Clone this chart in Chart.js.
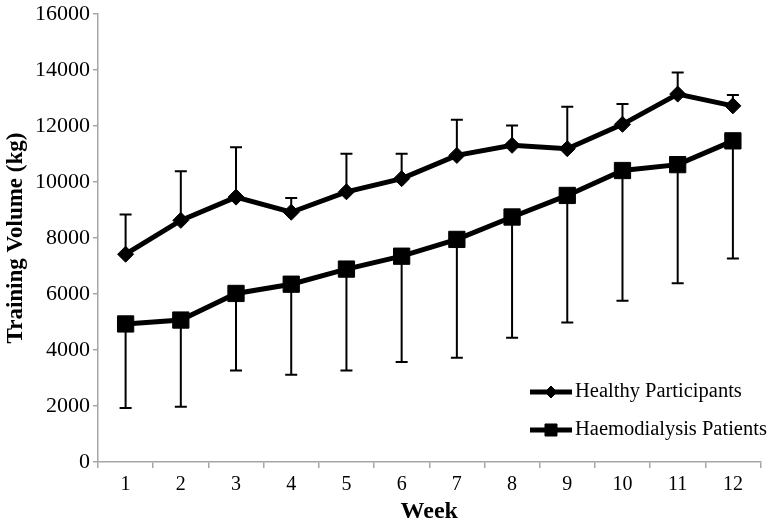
<!DOCTYPE html>
<html>
<head>
<meta charset="utf-8">
<script src="https://cdn.jsdelivr.net/npm/chart.js@4/dist/chart.umd.min.js"></script>
<style>
  html, body { margin: 0; padding: 0; background: #fff; }
  #wrap { width: 773px; height: 526px; position: relative; }
</style>
</head>
<body>
<div id="wrap"><canvas id="volChart"></canvas></div>
<script>
// Weekly training volume (kg)
const weeks = ['1', '2', '3', '4', '5', '6', '7', '8', '9', '10', '11', '12'];
const healthyMean = [7420, 8630, 9460, 8920, 9650, 10120, 10950, 11310, 11190, 12060, 13140, 12720];
const healthyUpper = [8840, 10380, 11240, 9430, 11010, 11010, 12220, 12020, 12690, 12790, 13910, 13110];
const dialysisMean = [4930, 5070, 6020, 6350, 6890, 7350, 7950, 8750, 9520, 10410, 10620, 11470];
const dialysisLower = [1930, 1970, 3270, 3120, 3270, 3570, 3720, 4440, 4980, 5760, 6380, 7270];
const yTicks = [0, 2000, 4000, 6000, 8000, 10000, 12000, 14000, 16000];

const serif = "'Liberation Serif', 'Times New Roman', serif";
const axisGrey = '#a6a6a6';

// one-sided SD bars: healthy go up, dialysis go down
const errorBars = {
  id: 'errorBars',
  beforeDatasetsDraw(chart) {
    const { ctx, scales: { x, y } } = chart;
    const cap = 6;
    const sets = [
      { mean: healthyMean, end: healthyUpper },
      { mean: dialysisMean, end: dialysisLower }
    ];
    ctx.save();
    ctx.strokeStyle = '#000';
    ctx.lineWidth = 2;
    sets.forEach(s => {
      s.mean.forEach((m, i) => {
        const px = x.getPixelForValue(i);
        const y0 = y.getPixelForValue(m);
        const y1 = y.getPixelForValue(s.end[i]);
        ctx.beginPath();
        ctx.moveTo(px, y0);
        ctx.lineTo(px, y1);
        ctx.moveTo(px - cap, y1);
        ctx.lineTo(px + cap, y1);
        ctx.stroke();
      });
    });
    ctx.restore();
  }
};

// legend sits inside the plot, lower right
const insideLegend = {
  id: 'insideLegend',
  afterDraw(chart) {
    const { ctx } = chart;
    const rows = [
      { label: 'Healthy Participants', style: 'rectRot', r: 6, y: 392 },
      { label: 'Haemodialysis Patients', style: 'rect', r: 8.5, y: 430 }
    ];
    ctx.save();
    rows.forEach(row => {
      ctx.strokeStyle = '#000';
      ctx.lineWidth = 5;
      ctx.beginPath();
      ctx.moveTo(530, row.y);
      ctx.lineTo(572, row.y);
      ctx.stroke();
      ctx.fillStyle = '#000';
      ctx.lineWidth = 1;
      Chart.helpers.drawPoint(ctx, { pointStyle: row.style, radius: row.r, borderWidth: 1 }, 551, row.y);
      ctx.fill();
      ctx.font = '20.5px ' + serif;
      ctx.textBaseline = 'middle';
      ctx.textAlign = 'left';
      ctx.fillText(row.label, 575, row.y);
    });
    ctx.restore();
  }
};

new Chart(document.getElementById('volChart'), {
  type: 'line',
  data: {
    labels: weeks,
    datasets: [
      {
        label: 'Healthy Participants',
        data: healthyMean,
        borderColor: '#000', backgroundColor: '#000',
        borderWidth: 5, tension: 0,
        pointStyle: 'rectRot', pointRadius: 8, pointBorderWidth: 1
      },
      {
        label: 'Haemodialysis Patients',
        data: dialysisMean,
        borderColor: '#000', backgroundColor: '#000',
        borderWidth: 5, tension: 0,
        pointStyle: 'rect', pointRadius: 11.5, pointBorderWidth: 1
      }
    ]
  },
  options: {
    responsive: true,
    maintainAspectRatio: false,
    animation: false,
    layout: { padding: { top: 11, right: 3, bottom: 0, left: 0 } },
    plugins: { legend: { display: false }, tooltip: { enabled: false } },
    scales: {
      x: {
        offset: true,
        grid: { offset: true, drawOnChartArea: false, color: axisGrey, tickLength: 6, lineWidth: 1.5 },
        border: { color: axisGrey, width: 1.5 },
        ticks: { color: '#000', font: { family: serif, size: 20 }, padding: 5, maxRotation: 0 },
        title: {
          display: true, text: 'Week', color: '#000',
          font: { family: serif, size: 24, weight: 'bold' },
          padding: { top: 0, bottom: 0 }
        },
        afterFit(scale) { scale.height = 64; }
      },
      y: {
        min: 0, max: 16000,
        afterBuildTicks(scale) { scale.ticks = yTicks.map(v => ({ value: v })); },
        grid: { drawOnChartArea: false, color: axisGrey, tickLength: 5, lineWidth: 1.5 },
        border: { color: axisGrey, width: 1.5 },
        ticks: {
          color: '#000', font: { family: serif, size: 22, lineHeight: 1 }, padding: 3,
          callback: v => String(v)
        },
        title: {
          display: true, text: 'Training Volume (kg)', color: '#000',
          font: { family: serif, size: 23, weight: 'bold' },
          padding: { top: 2, bottom: 0 }
        },
        afterFit(scale) { scale.width = 98; }
      }
    }
  },
  plugins: [errorBars, insideLegend]
});
</script>
</body>
</html>
